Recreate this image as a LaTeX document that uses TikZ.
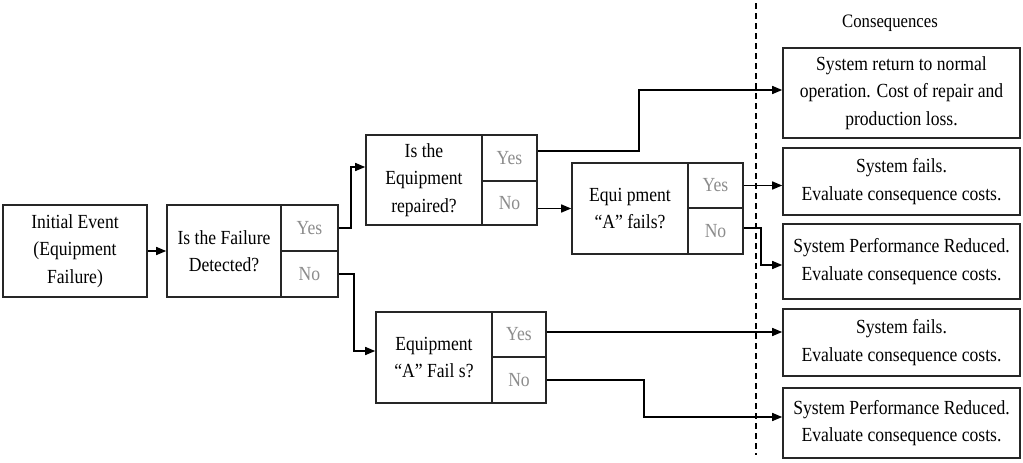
\documentclass[tikz,border=0pt]{standalone}
\usepackage{fontspec}
\setmainfont{Liberation Serif}[FakeStretch=0.88]
\usetikzlibrary{arrows.meta}
\begin{document}
\begin{tikzpicture}[x=1pt,y=-1pt,
  box/.style={draw=black!85, line width=1.6pt, inner sep=0pt, align=center,
    font=\fontsize{20}{27.5}\selectfont},
  yn/.style={box, text=black!45},
  conn/.style={line width=1.4pt, -{Triangle[length=10pt,width=8pt]}},
  lbl/.style={font=\fontsize{19}{24}\selectfont}]
\useasboundingbox (0,0) rectangle (1023,463);
% initial event
\node[box, minimum width=144pt, minimum height=92pt] (init) at (75,251) {Initial Event\\(Equipment\\Failure)};
% failure detected
\node[box, minimum width=114pt, minimum height=92pt] (fail) at (224,251) {Is the Failure\\Detected?};
\node[yn, minimum width=57pt, minimum height=46pt] (fY) at (309.5,228) {Yes};
\node[yn, minimum width=57pt, minimum height=46pt] (fN) at (309.5,274) {No};
% repaired
\node[box, minimum width=116pt, minimum height=90pt] (rep) at (424,180) {Is the\\Equipment\\repaired?};
\node[yn, minimum width=55pt, minimum height=46pt] (rY) at (509.5,158) {Yes};
\node[yn, minimum width=55pt, minimum height=44pt] (rN) at (509.5,203) {No};
% A fails (upper)
\node[box, minimum width=116pt, minimum height=91pt] (aF) at (630,208.5) {Equi pment\\“A” fails?};
\node[yn, minimum width=55pt, minimum height=45pt] (aY) at (715.5,185.5) {Yes};
\node[yn, minimum width=55pt, minimum height=46pt] (aN) at (715.5,231) {No};
% A fails (lower)
\node[box, minimum width=116pt, minimum height=91pt] (bF) at (434,357.5) {Equipment\\“A” Fail s?};
\node[yn, minimum width=54pt, minimum height=45pt] (bY) at (519,334.5) {Yes};
\node[yn, minimum width=54pt, minimum height=46pt] (bN) at (519,380) {No};
% consequences
\node[lbl] (cons) at (890,23) {Consequences};
\node[box, minimum width=237pt, minimum height=90pt] (c1) at (901.5,93) {System return to normal\\operation. Cost of repair and\\production loss.};
\node[box, minimum width=237pt, minimum height=67pt] (c2) at (901.5,181.5) {System fails.\\Evaluate consequence costs.};
\node[box, minimum width=237pt, minimum height=75pt] (c3) at (901.5,261.5) {System Performance Reduced.\\Evaluate consequence costs.};
\node[box, minimum width=237pt, minimum height=67pt] (c4) at (901.5,342.5) {System fails.\\Evaluate consequence costs.};
\node[box, minimum width=237pt, minimum height=70pt] (c5) at (901.5,423) {System Performance Reduced.\\Evaluate consequence costs.};
% dashed divider
\draw[line width=1.2pt, dash pattern=on 6pt off 4pt] (756,3) -- (756,455);
% connectors
\draw[conn] (init.east) -- (fail.west);
\draw[conn] (fY.east) -- ++(12,0) |- ([yshift=13pt]rep.west);
\draw[conn] (fN.east) -- ++(15,0) |- ([yshift=6.5pt]bF.west);
\draw[conn] ([yshift=7pt]rY.east) -- ++(101,0) |- ([yshift=3pt]c1.west);
\draw[conn] (aF.west -| rN.east) -- (aF.west);
\draw[conn] (aY.east) -- (aY.east -| c2.west);
\draw[conn] ([yshift=3pt]aN.east) -- ++(17,0) |- ([yshift=-3.5pt]c3.west);
\draw[conn] ([yshift=2.5pt]bY.east) -- ([yshift=2.5pt]bY.east -| c4.west);
\draw[conn] (bN.east) -- ++(97,0) |- ([yshift=6pt]c5.west);
\end{tikzpicture}
\end{document}
